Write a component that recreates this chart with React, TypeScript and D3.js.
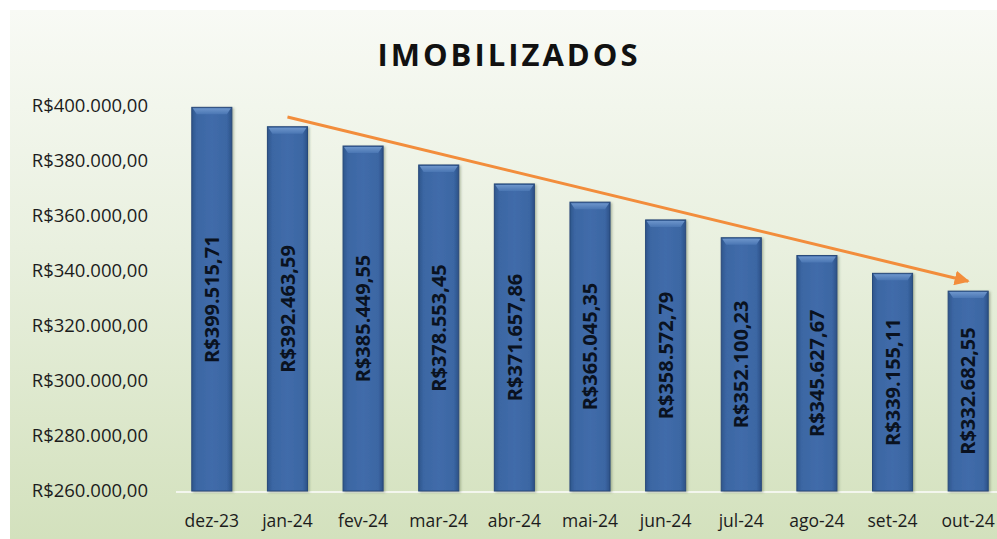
import React from 'react';
import * as d3 from 'd3';

const categories = ['dez-23', 'jan-24', 'fev-24', 'mar-24', 'abr-24', 'mai-24', 'jun-24', 'jul-24', 'ago-24', 'set-24', 'out-24'];
const values = [399515.71, 392463.59, 385449.55, 378553.45, 371657.86, 365045.35, 358572.79, 352100.23, 345627.67, 339155.11, 332682.55];
const yTicks = [260000, 280000, 300000, 320000, 340000, 360000, 380000, 400000];
// trend arrow drawn over the bars (start / end in data units)
const trendFrom = { cat: 'jan-24', value: 396000 };
const trendTo = { cat: 'out-24', value: 336300 };

const W = 997;
const H = 539;

const br = d3.formatLocale({
  decimal: ',',
  thousands: '.',
  grouping: [3],
  currency: ['R$', ''],
});
const money = br.format('$,.2f');

export default function App() {
  const x = d3.scaleBand<string>()
    .domain(categories)
    .range([174, 1006])
    .paddingInner(0.47)
    .paddingOuter(0.235);

  const y = d3.scaleLinear()
    .domain([260000, 400000])
    .range([491, 106]);

  const bw = x.bandwidth();
  const font = '"Open Sans", sans-serif';
  const cx = (c: string) => (x(c) || 0) + bw / 2;

  return (
    <div style={{ position: 'absolute', left: 0, top: 0 }}>
      <svg width={W} height={H} style={{ display: 'block' }}>
        <defs>
          <linearGradient id="bg" x1="0" y1="0" x2="0" y2="1">
            <stop offset="0%" stopColor="#f8faf5" />
            <stop offset="45%" stopColor="#e9f0df" />
            <stop offset="100%" stopColor="#d3e1bd" />
          </linearGradient>
          <linearGradient id="bar" x1="0" y1="0" x2="1" y2="0">
            <stop offset="0%" stopColor="#2f568c" />
            <stop offset="12%" stopColor="#3b66a3" />
            <stop offset="50%" stopColor="#416caa" />
            <stop offset="88%" stopColor="#3b66a3" />
            <stop offset="100%" stopColor="#2c5187" />
          </linearGradient>
          <linearGradient id="bevel" x1="0" y1="0" x2="0" y2="1">
            <stop offset="0%" stopColor="#6d95cb" />
            <stop offset="100%" stopColor="#4a76b3" />
          </linearGradient>
          <marker id="arrow" viewBox="0 0 10 10" refX="9" refY="5" markerWidth="5" markerHeight="5" orient="auto">
            <path d="M0,0 L10,5 L0,10 z" fill="#f28d3c" />
          </marker>
          <filter id="sh" x="-20%" y="-5%" width="140%" height="110%">
            <feDropShadow dx="1.5" dy="1" stdDeviation="1.2" floodColor="#5a6b4a" floodOpacity="0.45" />
          </filter>
        </defs>

        <rect x={10} y={10} width={W - 10} height={H - 10} fill="url(#bg)" />

        <text x={509} y={66} textAnchor="middle" fontFamily={font} fontWeight={700} fontSize={31} letterSpacing={3} fill="#111">
          IMOBILIZADOS
        </text>

        {yTicks.map(t => (
          <text key={t} x={148} y={y(t)} dy="0.35em" textAnchor="end" fontFamily={font} fontSize={18.5} fill="#1c1c1c">
            {money(t)}
          </text>
        ))}

        <line x1={176} x2={W} y1={y(260000) + 1} y2={y(260000) + 1} stroke="#f3f6ee" strokeWidth={2} />

        {categories.map((c, i) => {
          const bx = x(c) || 0;
          const top = y(values[i]);
          const bottom = y(260000);
          return (
            <g key={c}>
              <rect x={bx} y={top} width={bw} height={bottom - top} fill="url(#bar)" stroke="#28497a" strokeWidth={1} filter="url(#sh)" />
              <path
                d={`M${bx + 1},${top + 1} L${bx + bw - 1},${top + 1} L${bx + bw - 5},${top + 7} L${bx + 5},${top + 7} Z`}
                fill="url(#bevel)"
              />
              <text
                transform={`translate(${bx + bw / 2},${(top + bottom) / 2}) rotate(-90)`}
                dy="0.36em"
                textAnchor="middle"
                fontFamily={font}
                fontWeight={700}
                fontSize={20}
                fill="#0a1220"
              >
                {money(values[i])}
              </text>
              <text x={bx + bw / 2} y={521} dy="0.35em" textAnchor="middle" fontFamily={font} fontSize={17.5} fill="#1c1c1c">
                {c}
              </text>
            </g>
          );
        })}

        <line
          x1={cx(trendFrom.cat)}
          y1={y(trendFrom.value)}
          x2={cx(trendTo.cat)}
          y2={y(trendTo.value)}
          stroke="#f28d3c"
          strokeWidth={3}
          markerEnd="url(#arrow)"
        />
      </svg>
    </div>
  );
}
